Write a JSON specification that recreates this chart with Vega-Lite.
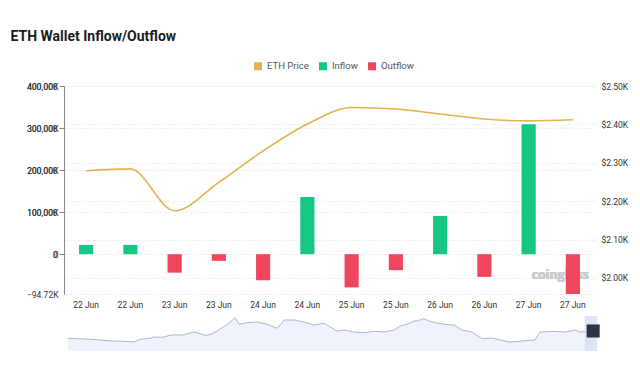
{
  "$schema": "https://vega.github.io/schema/vega-lite/v6.json",
  "background": "white",
  "padding": {"left": 10, "top": 30, "right": 5, "bottom": 5},
  "title": {"text": "ETH Wallet Inflow/Outflow", "anchor": "start", "fontSize": 14, "fontWeight": 700, "font": "Roboto", "color": "#1b1b1b", "offset": 17, "dx": -16},
  "config": {
    "view": {"stroke": null},
    "font": "Roboto",
    "axis": {"labelFont": "Roboto", "labelFontSize": 8.5, "labelColor": "#333333"}
  },
  "datasets": {
    "main": [
      {"time": "22 Jun 00:00", "flow": 22000, "type": "Inflow", "price": 2279},
      {"time": "22 Jun 12:00", "flow": 22000, "type": "Inflow", "price": 2284},
      {"time": "23 Jun 00:00", "flow": -44000, "type": "Outflow", "price": 2175},
      {"time": "23 Jun 12:00", "flow": -16000, "type": "Outflow", "price": 2249},
      {"time": "24 Jun 00:00", "flow": -62000, "type": "Outflow", "price": 2331},
      {"time": "24 Jun 12:00", "flow": 136000, "type": "Inflow", "price": 2401},
      {"time": "25 Jun 00:00", "flow": -79000, "type": "Outflow", "price": 2444},
      {"time": "25 Jun 12:00", "flow": -38000, "type": "Outflow", "price": 2440},
      {"time": "26 Jun 00:00", "flow": 91000, "type": "Inflow", "price": 2427},
      {"time": "26 Jun 12:00", "flow": -54000, "type": "Outflow", "price": 2414},
      {"time": "27 Jun 00:00", "flow": 309000, "type": "Inflow", "price": 2409},
      {"time": "27 Jun 12:00", "flow": -94720, "type": "Outflow", "price": 2412}
    ],
    "mini": [
      {"h": 1.1, "p": 2257}, {"h": 7.6, "p": 2247}, {"h": 13.0, "p": 2230}, {"h": 16.5, "p": 2227},
      {"h": 19.0, "p": 2220}, {"h": 20.6, "p": 2247}, {"h": 23.3, "p": 2257}, {"h": 24.4, "p": 2270},
      {"h": 26.6, "p": 2267}, {"h": 29.3, "p": 2290}, {"h": 32.0, "p": 2290}, {"h": 35.3, "p": 2320},
      {"h": 36.6, "p": 2307}, {"h": 38.2, "p": 2287}, {"h": 39.6, "p": 2293}, {"h": 42.0, "p": 2340},
      {"h": 44.7, "p": 2407}, {"h": 46.4, "p": 2463}, {"h": 47.5, "p": 2397}, {"h": 49.6, "p": 2413},
      {"h": 52.3, "p": 2420}, {"h": 55.1, "p": 2397}, {"h": 57.8, "p": 2357}, {"h": 59.7, "p": 2440},
      {"h": 62.4, "p": 2440}, {"h": 65.1, "p": 2420}, {"h": 67.8, "p": 2390}, {"h": 70.5, "p": 2407},
      {"h": 72.1, "p": 2373}, {"h": 74.0, "p": 2330}, {"h": 75.9, "p": 2340}, {"h": 78.6, "p": 2320},
      {"h": 81.4, "p": 2313}, {"h": 84.1, "p": 2327}, {"h": 86.8, "p": 2320}, {"h": 89.5, "p": 2340},
      {"h": 91.1, "p": 2380}, {"h": 93.0, "p": 2397}, {"h": 94.9, "p": 2430}, {"h": 95.7, "p": 2430},
      {"h": 97.6, "p": 2453}, {"h": 99.0, "p": 2430}, {"h": 100.6, "p": 2413}, {"h": 103.3, "p": 2397},
      {"h": 106.0, "p": 2387}, {"h": 107.9, "p": 2340}, {"h": 110.6, "p": 2320}, {"h": 113.4, "p": 2253},
      {"h": 116.1, "p": 2260}, {"h": 118.8, "p": 2237}, {"h": 120.7, "p": 2220}, {"h": 123.4, "p": 2227},
      {"h": 126.1, "p": 2237}, {"h": 127.7, "p": 2240}, {"h": 129.1, "p": 2320}, {"h": 132.3, "p": 2327},
      {"h": 135.9, "p": 2320}, {"h": 138.6, "p": 2340}, {"h": 139.9, "p": 2320}, {"h": 143.2, "p": 2330}
    ]
  },
  "vconcat": [
    {
      "width": 531,
      "height": 208,
      "data": {"name": "main"},
      "encoding": {
        "x": {
          "field": "time", "type": "ordinal", "sort": null,
          "scale": {"paddingInner": 0, "paddingOuter": 0,
            "domain": ["22 Jun 00:00", "22 Jun 12:00", "23 Jun 00:00", "23 Jun 12:00", "24 Jun 00:00", "24 Jun 12:00", "25 Jun 00:00", "25 Jun 12:00", "26 Jun 00:00", "26 Jun 12:00", "27 Jun 00:00", "27 Jun 12:00"]},
          "axis": {"title": null, "labelAngle": 0, "ticks": false, "domain": false, "labelPadding": 6, "labelExpr": "slice(datum.value, 0, 6)"}
        }
      },
      "layer": [
        {
          "mark": {"type": "text", "text": "coinglass", "align": "left", "baseline": "middle", "dx": 3, "fontSize": 12.5, "fontWeight": 700, "color": "#cccccc", "font": "Open Sans"},
          "encoding": {
            "x": {"datum": "27 Jun 00:00", "type": "ordinal"},
            "y": {"datum": -50000, "type": "quantitative", "scale": {"domain": [-94720, 400000], "nice": false, "zero": false}}
          }
        },
        {
          "mark": {"type": "bar", "width": {"band": 0.32}},
          "encoding": {
            "y": {
              "field": "flow", "type": "quantitative",
              "scale": {"domain": [-94720, 400000], "nice": false, "zero": false},
              "axis": {"title": null, "orient": "left", "values": [-94720, 0, 100000, 200000, 300000, 400000],
                "labelExpr": "datum.value == 0 ? '0' : format(datum.value / 1000, '.2f') + 'K'",
                "ticks": false, "domain": false, "labelPadding": 6, "grid": true, "gridColor": "#eeeeee", "gridDash": [3, 2]}
            },
            "color": {
              "field": "type", "type": "nominal",
              "scale": {"domain": ["ETH Price", "Inflow", "Outflow"], "range": ["#e5b24e", "#16c784", "#f0465c"]},
              "legend": {"title": null, "orient": "none", "direction": "horizontal", "legendX": 189, "legendY": -25,
                "symbolType": "square", "symbolSize": 64, "labelFontSize": 9.5, "labelColor": "#555555", "labelOffset": 4, "columnPadding": 9, "labelFont": "Roboto"}
            }
          }
        },
        {
          "mark": {"type": "line", "interpolate": "monotone", "color": "#e5b24e", "strokeWidth": 1.6},
          "encoding": {
            "y": {
              "field": "price", "type": "quantitative",
              "scale": {"domain": [1958, 2500], "nice": false, "zero": false},
              "axis": {"title": null, "orient": "right", "values": [2000, 2100, 2200, 2300, 2400, 2500],
                "labelExpr": "'$' + format(datum.value / 1000, '.2f') + 'K'",
                "ticks": false, "domain": false, "labelPadding": 6, "grid": true, "gridColor": "#eeeeee", "gridDash": [3, 2]}
            }
          }
        }
      ],
      "resolve": {"scale": {"y": "independent"}}
    },
    {
      "width": 531,
      "height": 35,
      "data": {"name": "mini"},
      "layer": [
        {
          "mark": {"type": "area", "color": "#e8eef9", "line": {"color": "#a9b6d3", "strokeWidth": 1}},
          "encoding": {
            "x": {"field": "h", "type": "quantitative", "scale": {"domain": [0, 144], "nice": false, "zero": false}, "axis": null},
            "y": {"field": "p", "type": "quantitative", "scale": {"domain": [2130, 2480], "zero": false, "nice": false}, "axis": null},
            "y2": {"datum": 2130}
          }
        },
        {
          "data": {"values": [{"h1": 141.2, "h2": 144.6, "lo": 2130, "hi": 2480}]},
          "mark": {"type": "rect", "color": "#d6e0f4", "opacity": 0.8},
          "encoding": {
            "x": {"field": "h1", "type": "quantitative"},
            "x2": {"field": "h2"},
            "y": {"field": "lo", "type": "quantitative"},
            "y2": {"field": "hi"}
          }
        },
        {
          "data": {"values": [{"h": 143.5, "p": 2330}]},
          "mark": {"type": "point", "shape": "square", "size": 170, "filled": true, "color": "#2e3442", "opacity": 1},
          "encoding": {
            "x": {"field": "h", "type": "quantitative"},
            "y": {"field": "p", "type": "quantitative"}
          }
        }
      ]
    }
  ],
  "spacing": 6
}
